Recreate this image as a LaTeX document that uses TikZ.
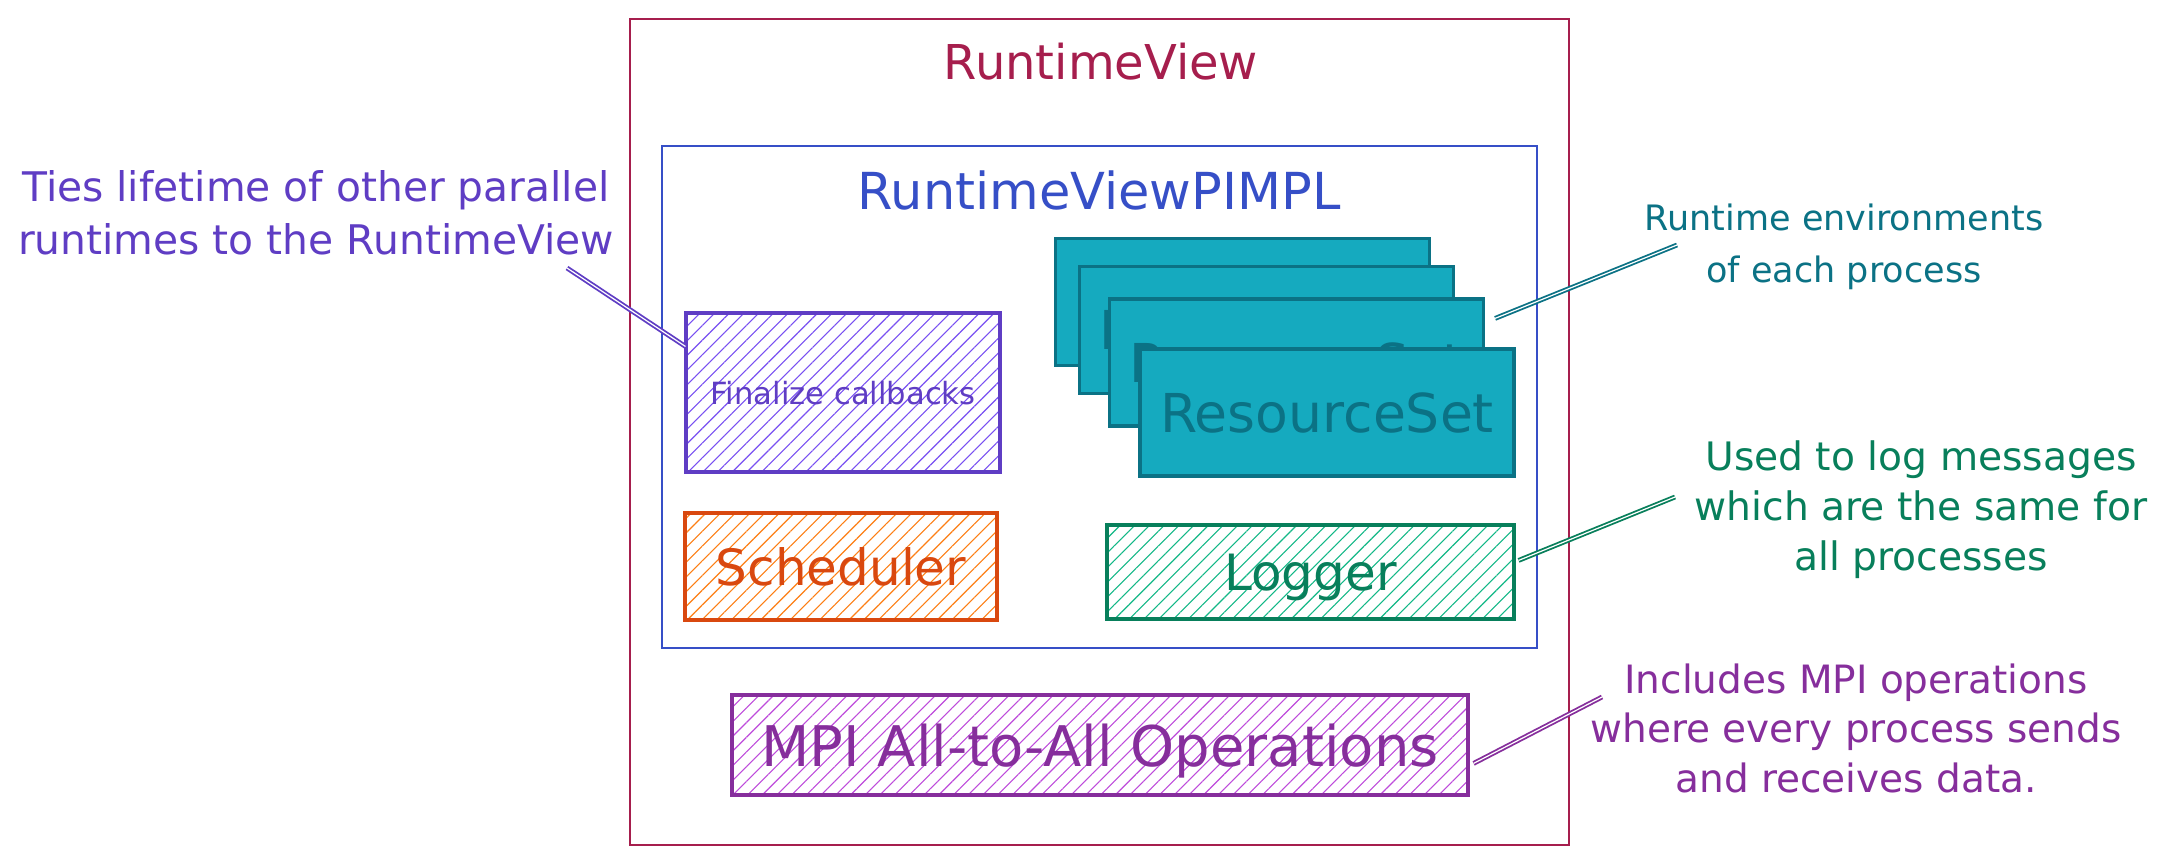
\documentclass[tikz,border=0pt]{standalone}
\usepackage{fontspec}
\setmainfont{DejaVu Sans}
\usetikzlibrary{patterns.meta,calc}
\definecolor{crimson}{HTML}{A61E4D}
\definecolor{indigo}{HTML}{364FC7}
\definecolor{violetS}{HTML}{5F3DC4}
\definecolor{violetB}{HTML}{7950F2}
\definecolor{orangeS}{HTML}{D9480F}
\definecolor{orangeB}{HTML}{FD7E14}
\definecolor{greenS}{HTML}{087F5B}
\definecolor{greenB}{HTML}{12B886}
\definecolor{cyanS}{HTML}{0B7285}
\definecolor{cyanB}{HTML}{15AABF}
\definecolor{grapeS}{HTML}{862E9C}
\definecolor{grapeB}{HTML}{BE4BDB}
\newdimen\pxu \pxu=0.5pt
\newcommand{\fs}[2]{\fontsize{#1}{#2}\selectfont}
\begin{document}
\begin{tikzpicture}[x=0.5pt,y=-0.5pt,
  container/.style={draw=#1, line width=1.1pt, inner sep=0pt},
  hatch/.style 2 args={draw=#1, line width=1.6pt, inner sep=0pt, text=#1, text depth=0pt,
    pattern={Lines[angle=45,distance=5.2pt,line width=0.55pt]}, pattern color=#2},
  rsbox/.style={draw=cyanS, fill=cyanB, line width=1.6pt, inner sep=0pt, text=cyanS,
    minimum width=374\pxu, minimum height=127\pxu, text depth=0pt, font=\fs{26.8pt}{30pt}},
  note/.style={text=#1, align=center, inner sep=0pt},
  conn/.style={draw=#1, line width=0.9pt, double=white, double distance=0.6pt}
]
\useasboundingbox (0,0) rectangle (2168,866);
\fill[white] (0,0) rectangle (2168,866);

% containers
\node[container=crimson, minimum width=939\pxu, minimum height=826\pxu] (rv) at (1099.5,432) {};
\node[text=crimson, font=\fs{24pt}{28pt}] (rvt) at (1101,62) {RuntimeView};
\node[container=indigo, minimum width=875\pxu, minimum height=502\pxu] (pimpl) at (1099.5,397) {};
\node[text=indigo, font=\fs{25.5pt}{30pt}] (pimplt) at (1099,190) {RuntimeViewPIMPL};

% inner boxes
\node[hatch={violetS}{violetB}, minimum width=314\pxu, minimum height=159\pxu, font=\fs{15.3pt}{18pt}] (fin) at (843,392.5) {Finalize callbacks};
\node[hatch={orangeS}{orangeB}, minimum width=312\pxu, minimum height=107\pxu, font=\fs{25pt}{30pt}] (sched) at (841,566.5) {Scheduler};
\node[hatch={greenS}{greenB}, minimum width=407\pxu, minimum height=94\pxu, font=\fs{25pt}{30pt}] (log) at (1310.5,572) {Logger};
\node[rsbox] (rs1) at (1242.5,302) {ResourceSet};
\node[rsbox] (rs2) at (1266.5,330) {ResourceSet};
\node[rsbox] (rs3) at (1296.5,362.5) {ResourceSet};
\node[rsbox] (rs4) at (1327,412.5) {ResourceSet};
\node[hatch={grapeS}{grapeB}, minimum width=736\pxu, minimum height=100\pxu, font=\fs{28pt}{32pt}] (mpi) at (1100,745) {MPI All-to-All Operations};

% annotations
\node[note=violetS, font=\fs{20.4pt}{26.5pt}] (ties) at (316,213) {Ties lifetime of other parallel\\runtimes to the RuntimeView};
\node[note=cyanS, font=\fs{17.5pt}{26pt}] (renv) at (1844,247) {Runtime environments\\of each process};
\node[note=greenS, font=\fs{19.6pt}{25pt}] (used) at (1921,510) {Used to log messages\\which are the same for\\all processes};
\node[note=grapeS, font=\fs{19.5pt}{24.75pt}] (incl) at (1856,728) {Includes MPI operations\\where every process sends\\and receives data.};

% connectors
\coordinate (tiesEnd) at (567,268);
\draw[conn=violetS] (tiesEnd) -- ($(fin.north west)+(0,34)$);
\coordinate (renvEnd) at (1677,245);
\draw[conn=cyanS] (renvEnd) -- ($(rs3.north east)+(10,21)$);
\coordinate (usedEnd) at (1675,497);
\draw[conn=greenS] (usedEnd) -- ($(log.north east)+(3,37)$);
\coordinate (inclEnd) at (1602,697);
\draw[conn=grapeS] (inclEnd) -- ($(mpi.north east)+(4,70)$);
\end{tikzpicture}
\end{document}
